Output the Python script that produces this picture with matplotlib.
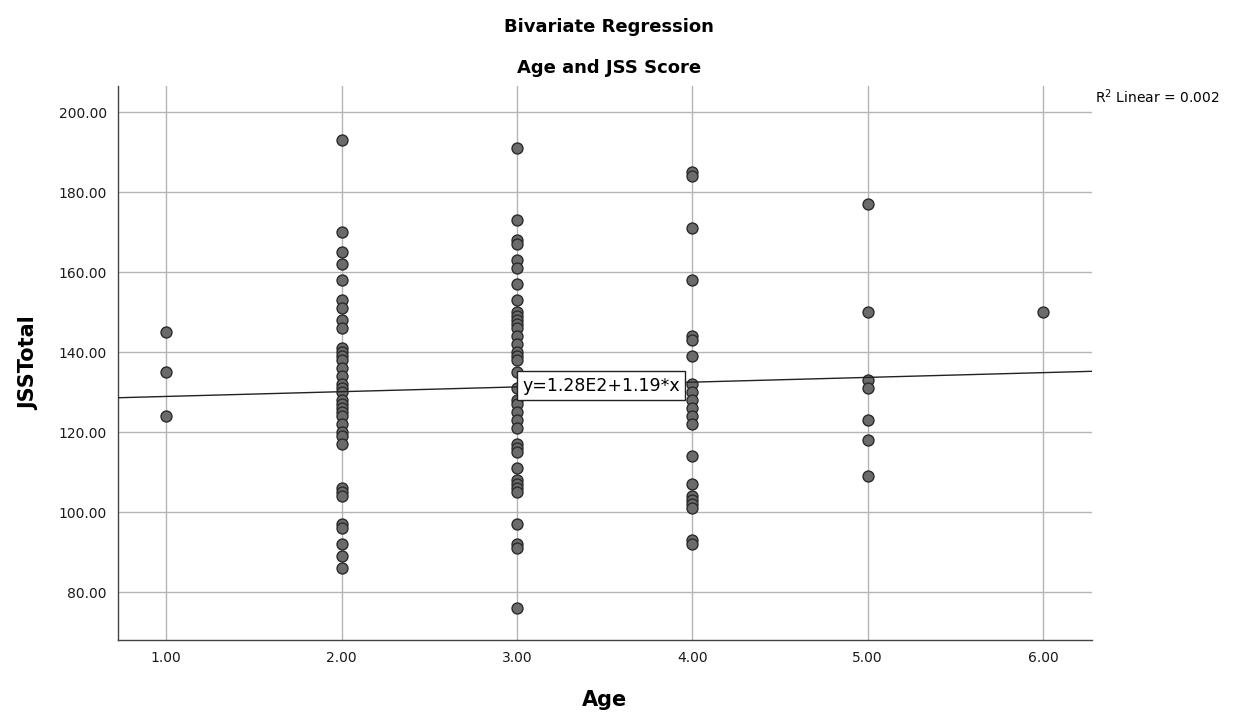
import numpy as np
import matplotlib
matplotlib.use("Agg")
import matplotlib.pyplot as plt

# Data (Age group vs JSS total)
age1 = [145, 135, 124]
age2 = [193, 170, 165, 162, 158, 153, 151, 148, 146, 141, 140, 139, 138, 136,
        134, 132, 131, 130, 128, 127, 126, 125, 124, 122, 120, 119, 117,
        106, 105, 104, 97, 96, 92, 89, 86]
age3 = [191, 173, 168, 167, 163, 161, 157, 153, 150, 149, 148, 147, 146, 144,
        142, 140, 139, 138, 135, 131, 128, 127, 125, 123, 121, 117, 116, 115,
        111, 108, 107, 106, 105, 97, 92, 91, 76]
age4 = [185, 184, 171, 158, 144, 143, 139, 132, 130, 128, 126, 124, 122,
        114, 107, 104, 103, 102, 101, 93, 92]
age5 = [177, 150, 133, 131, 123, 118, 109]
age6 = [150]
groups = [age1, age2, age3, age4, age5, age6]

intercept = 127.7
slope = 1.19
eq_label = "y=1.28E2+1.19*x"
r2_label = r"R$^2$ Linear = 0.002"

xs = np.concatenate([np.full(len(g), i + 1.0) for i, g in enumerate(groups)])
ys = np.concatenate([np.array(g, dtype=float) for g in groups])

plt.rcParams["font.family"] = "DejaVu Sans"

fig = plt.figure(figsize=(12.39, 7.15), dpi=100)
ax = fig.add_axes([118 / 1239, 1 - 640 / 715, (1092 - 118) / 1239, (640 - 86) / 715])

xlim = (0.725, 6.28)
ylim = (68.0, 206.5)
ax.set_xlim(*xlim)
ax.set_ylim(*ylim)

ax.set_xticks(np.arange(1, 7))
ax.set_xticklabels([f"{v:.2f}" for v in np.arange(1, 7)])
ax.set_yticks(np.arange(80, 201, 20))
ax.set_yticklabels([f"{v:.2f}" for v in np.arange(80, 201, 20)])
ax.tick_params(labelsize=10, length=0, pad=8, colors="#1a1a1a")

ax.grid(True, color="#b5b5b5", linewidth=1.0)
ax.set_axisbelow(True)
for side in ["top", "right"]:
    ax.spines[side].set_visible(False)
for side in ["left", "bottom"]:
    ax.spines[side].set_color("#444444")
    ax.spines[side].set_linewidth(1.0)

# points
ax.scatter(xs, ys, s=62, facecolor="#6b6b6b", edgecolor="#2a2a2a",
           linewidth=1.0, zorder=3)

# fit line
lx = np.array(xlim)
ax.plot(lx, intercept + slope * lx, color="#222222", linewidth=1.0, zorder=4)

ax.text(3.03, intercept + slope * 3.03 + 0.3, eq_label, fontsize=12.5,
        va="center", ha="left", zorder=5,
        bbox=dict(boxstyle="square,pad=0.3", facecolor="white",
                  edgecolor="#222222", linewidth=1.0))

fig.text(1095 / 1239, 1 - 97 / 715, r2_label, fontsize=10, va="center", ha="left")

fig.text(0.5 * (118 + 1092) / 1239 + 0.003, 1 - 27 / 715, "Bivariate Regression",
         fontsize=13, fontweight="bold", ha="center", va="center")
fig.text(0.5 * (118 + 1092) / 1239 + 0.003, 1 - 68 / 715, "Age and JSS Score",
         fontsize=13, fontweight="bold", ha="center", va="center")

ax.set_xlabel("Age", fontsize=15, fontweight="bold", labelpad=18)
ax.set_ylabel("JSSTotal", fontsize=15, fontweight="bold", labelpad=14)

fig.savefig("out.png", dpi=100)
